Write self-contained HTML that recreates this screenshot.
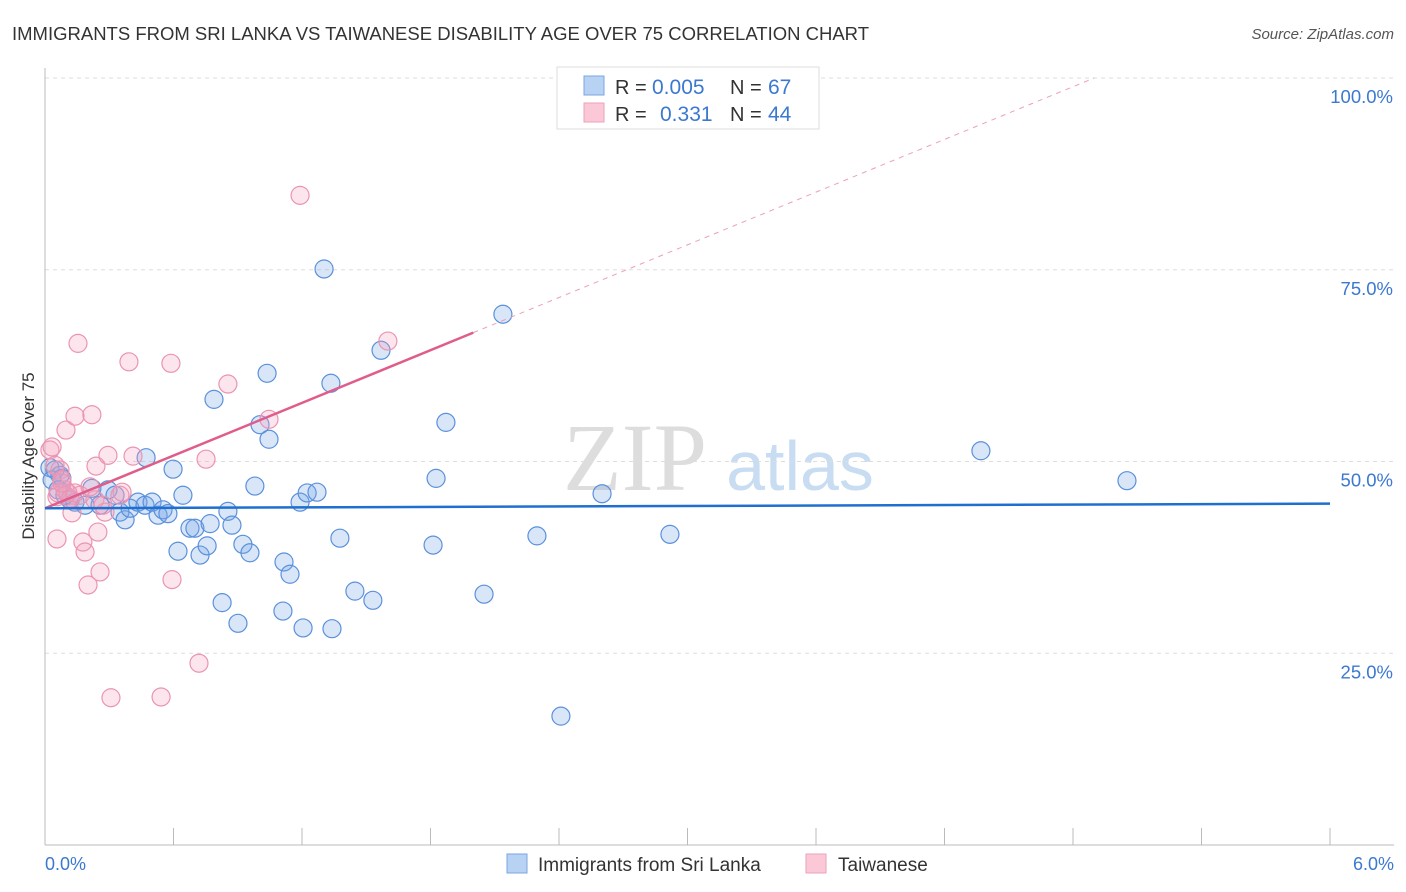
<!DOCTYPE html>
<html><head><meta charset="utf-8"><style>
body{margin:0;background:#fff;font-family:"Liberation Sans",sans-serif;}
svg{display:block}
</style></head><body>
<svg id="chart" width="1406" height="892" xmlns="http://www.w3.org/2000/svg">
<text x="12" y="40" font-size="18.5" fill="#333">IMMIGRANTS FROM SRI LANKA VS TAIWANESE DISABILITY AGE OVER 75 CORRELATION CHART</text>
<text x="1394" y="39" font-size="15" fill="#555" font-style="italic" text-anchor="end">Source: ZipAtlas.com</text>
<g>
<text x="635" y="490" font-size="96" font-family="Liberation Serif,serif" fill="#ddd" text-anchor="middle">ZIP</text>
<text x="800" y="490" font-size="70" fill="#c8dcf2" text-anchor="middle">atlas</text>
</g>
<g id="grid"></g><g id="axes"></g><g id="marks"></g>
<text transform="translate(34,456) rotate(-90)" font-size="17" fill="#333" text-anchor="middle">Disability Age Over 75</text>
<text x="45" y="870" font-size="18" fill="#3b78d0">0.0%</text>
<text x="1394" y="870" font-size="18" fill="#3b78d0" text-anchor="end">6.0%</text>
<g>
<rect x="557" y="67" width="262" height="62" fill="#fff" stroke="#ddd"/>
<rect x="584" y="76" width="20" height="19" fill="#b8d2f4" stroke="#7aa6e2"/>
<text x="615" y="94" font-size="20" fill="#333">R = </text><text x="652" y="94" font-size="21" fill="#3b78d0">0.005</text>
<text x="730" y="94" font-size="20" fill="#333">N = </text><text x="768" y="94" font-size="21" fill="#3b78d0">67</text>
<rect x="584" y="103" width="20" height="19" fill="#fbc8d8" stroke="#eea2ba"/>
<text x="615" y="121" font-size="20" fill="#333">R = </text><text x="660" y="121" font-size="21" fill="#3b78d0">0.331</text>
<text x="730" y="121" font-size="20" fill="#333">N = </text><text x="768" y="121" font-size="21" fill="#3b78d0">44</text>
</g>
<g>
<rect x="507" y="854" width="20" height="19" fill="#b8d2f4" stroke="#7aa6e2"/>
<text x="538" y="871" font-size="19" fill="#333">Immigrants from Sri Lanka</text>
<rect x="806" y="854" width="20" height="19" fill="#fbc8d8" stroke="#eea2ba"/>
<text x="838" y="871" font-size="19" fill="#333">Taiwanese</text>
</g>
</svg>
<script>
const yTicks=[25,50,75,100];
const yTickLabels=["25.0%","50.0%","75.0%","100.0%"];
const xTicks=[0,0.6,1.2,1.8,2.4,3.0,3.6,4.2,4.8,5.4,6.0];
const blueX=[.023,.047,.070,.033,.079,.061,.093,.117,.140,.187,.219,.257,.294,.327,.350,.374,.397,.434,.467,.472,.500,.528,.551,.574,.598,.621,.644,.677,.700,.724,.757,.771,.789,.827,.854,.873,.901,.924,.957,.980,1.004,1.037,1.046,1.116,1.111,1.144,1.191,1.205,1.224,1.270,1.303,1.335,1.340,1.377,1.447,1.531,1.569,1.812,1.826,1.872,2.050,2.138,2.297,2.409,2.601,2.918,4.370,5.052];
const blueY=[49.2,48.9,48.2,47.6,47.8,46.3,45.6,45.0,44.7,44.3,46.5,44.3,46.3,45.6,43.4,42.4,43.9,44.7,44.3,50.5,44.7,43.0,43.7,43.2,49.0,38.3,45.6,41.3,41.3,37.8,39.0,41.9,58.1,31.6,43.5,41.7,28.9,39.2,38.1,46.8,54.8,61.5,52.9,36.9,30.5,35.3,44.7,28.3,45.9,46.0,75.1,60.2,28.2,40.0,33.1,31.9,64.5,39.1,47.8,55.1,32.7,69.2,40.3,16.8,45.8,40.5,51.4,47.5];
const pinkX=[.023,.047,.056,.070,.079,.093,.098,.117,.126,.140,.154,.163,.177,.187,.201,.219,.233,.238,.247,.257,.280,.294,.308,.350,.392,.411,.542,.588,.593,.719,.752,.854,1.046,1.191,1.601,.056,.033,.061,.107,.140,.210,.079,.271,.360];
const pinkY=[51.5,49.5,45.4,48.9,47.6,46.3,54.1,45.2,43.3,55.9,65.4,45.6,39.5,38.2,33.9,56.1,45.0,49.4,40.8,35.6,43.4,50.8,19.2,45.6,63.0,50.7,19.3,62.8,34.6,23.7,50.3,60.1,55.5,84.7,65.7,39.9,51.9,45.9,45.9,45.9,46.7,47.2,44.3,46.0];
const blueTrend=[43.9,44.5];
const pinkTrend=[43.9,66.8];
const pinkSolidEnd=2.0;
const NS="http://www.w3.org/2000/svg";
const sx=v=>45+v/6*1285;
const sy=v=>845-v*7.67;
function mk(t,a,p){const e=document.createElementNS(NS,t);for(const k in a)e.setAttribute(k,a[k]);p.appendChild(e);return e;}
const grid=document.getElementById('grid'),axes=document.getElementById('axes'),marks=document.getElementById('marks');
yTicks.forEach((t,i)=>{
 const l=mk('line',{x1:45,x2:1394,y1:sy(t),y2:sy(t),stroke:'#ddd','stroke-dasharray':'4,4'},grid);
 
 
 const tx=mk('text',{x:1393,y:sy(t)+25,'font-size':18.5,fill:'#3b78d0','text-anchor':'end'},grid);
 tx.textContent=yTickLabels[i];
 
 
});
const ya=mk('line',{x1:45,x2:45,y1:68,y2:845,stroke:'#bbb'},axes);


const xa=mk('line',{x1:45,x2:1394,y1:845,y2:845,stroke:'#bbb'},axes);


xTicks.forEach(t=>{
 const l=mk('line',{x1:sx(t),x2:sx(t),y1:828,y2:845,stroke:'#bbb'},axes);
 
 
});
blueX.forEach((x,i)=>{
 const c=mk('circle',{cx:sx(x),cy:sy(blueY[i]),r:9,fill:'rgba(120,165,230,0.28)',stroke:'#5a90dc','stroke-width':1.2},marks);
 
 
});
pinkX.forEach((x,i)=>{
 const c=mk('circle',{cx:sx(x),cy:sy(pinkY[i]),r:9,fill:'rgba(245,160,190,0.28)',stroke:'#eb94b2','stroke-width':1.2},marks);
 
 
});
const slope=(pinkTrend[1]-pinkTrend[0])/pinkSolidEnd;
const xEnd=(100-pinkTrend[0])/slope;
const pd=mk('line',{x1:sx(pinkSolidEnd),y1:sy(pinkTrend[1]),x2:sx(xEnd),y2:sy(100),stroke:'#eaa0b8','stroke-width':1,'stroke-dasharray':'5,5'},marks);


const pl=mk('line',{x1:sx(0),y1:sy(pinkTrend[0]),x2:sx(pinkSolidEnd),y2:sy(pinkTrend[1]),stroke:'#e05c8a','stroke-width':2.5},marks);


const bl=mk('line',{x1:sx(0),y1:sy(blueTrend[0]),x2:sx(6),y2:sy(blueTrend[1]),stroke:'#1f6fd1','stroke-width':2.5},marks);


</script>
</body></html>
